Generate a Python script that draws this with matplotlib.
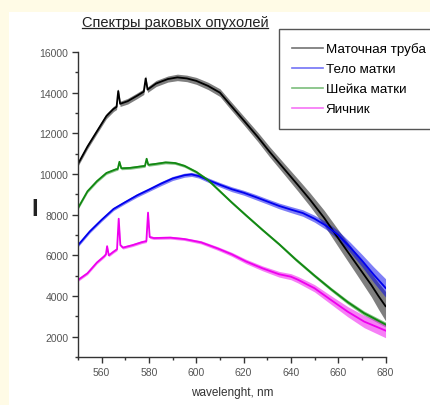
import numpy as np
import matplotlib
matplotlib.use('Agg')
import matplotlib.pyplot as plt
from matplotlib.lines import Line2D
from matplotlib.patches import Rectangle
from matplotlib.ticker import MultipleLocator

plt.rcParams['font.family'] = ['Liberation Sans', 'DejaVu Sans']

# Spectra (wavelength nm -> intensity), plus noise half-width
nm_black = [550, 554, 558, 562, 565, 566.3, 567, 567.8, 571, 575, 577.8, 578.6, 579.4,
            583, 588, 592, 596, 600, 605, 610, 614, 620, 626, 631, 637, 643, 648, 654,
            661, 668, 674, 677, 680]
val_black = [10500, 11350, 12100, 12850, 13200, 13300, 14080, 13450, 13580, 13850, 14050,
             14700, 14150, 14450, 14670, 14750, 14700, 14580, 14330, 14000, 13450, 12640,
             11820, 11090, 10270, 9450, 8750, 7850, 6670, 5520, 4540, 4000, 3500]
noise_black = [110, 120, 120, 130, 130, 130, 130, 130, 140, 140, 140, 140, 140,
               150, 150, 160, 160, 170, 180, 190, 200, 210, 230, 250, 270, 300, 330, 370,
               430, 500, 580, 650, 720]

nm_blue = [550, 555, 560, 565, 570, 575, 580, 585, 590, 595, 598, 601, 605, 610, 615,
           620, 625, 630, 635, 640, 645, 650, 655, 660, 665, 670, 675, 680]
val_blue = [6500, 7180, 7750, 8280, 8620, 8950, 9230, 9520, 9780, 9940, 9980, 9900, 9700,
            9470, 9250, 9080, 8870, 8650, 8430, 8250, 8080, 7800, 7450, 7000, 6400, 5750,
            5050, 4400]
noise_blue = [80, 80, 80, 80, 80, 90, 90, 100, 100, 100, 100, 100, 110, 110, 120,
              120, 130, 130, 140, 150, 160, 170, 190, 210, 250, 300, 380, 450]

nm_green = [550, 554, 558, 562, 566, 566.8, 567.5, 568.3, 572, 577, 578.3, 579, 579.7,
            583, 587, 591, 595, 600, 605, 610, 615, 621, 628, 635, 642, 650, 657, 664,
            671, 680]
val_green = [8330, 9150, 9650, 10050, 10230, 10250, 10600, 10280, 10300, 10380, 10400,
             10750, 10450, 10500, 10570, 10540, 10400, 10100, 9700, 9150, 8600, 7970, 7250,
             6550, 5800, 5000, 4330, 3700, 3150, 2600]
noise_green = [70] * 24 + [80, 80, 90, 100, 110, 120]

nm_mag = [550, 554, 558, 561, 561.8, 562.3, 563, 565, 566.5, 567.2, 567.9, 569, 573, 577,
          578.9, 579.6, 580.3, 582, 589, 595, 602, 609, 615, 621, 628, 635, 640, 643,
          650, 657, 664, 671, 680]
val_mag = [4790, 5120, 5650, 5950, 6050, 6450, 6000, 6180, 6300, 7800, 6500, 6380, 6500,
           6650, 6700, 8100, 6900, 6850, 6870, 6800, 6640, 6340, 6050, 5700, 5360, 5070,
           4950, 4800, 4380, 3800, 3230, 2740, 2300]
noise_mag = [70] * 20 + [80, 90, 100, 110, 120, 140, 150, 160, 180, 210, 250, 300, 350]

labels = ['Маточная труба', 'Тело матки', 'Шейка матки', 'Яичник']
colors = ['black', '#0000ee', '#118811', '#ee00ee']

fig = plt.figure(figsize=(4.31, 4.06), dpi=100)
fig.patch.set_facecolor('#fffbe6')
fig.patches.append(Rectangle((9 / 431, 0), 1, 1 - 13 / 406, transform=fig.transFigure,
                             facecolor='white', edgecolor='none', zorder=-5))

ax = fig.add_axes([0.181, 0.1182, 0.7135, 0.7513])
ax.patch.set_alpha(0)

series = [(nm_black, val_black, noise_black), (nm_blue, val_blue, noise_blue),
          (nm_green, val_green, noise_green), (nm_mag, val_mag, noise_mag)]
for (x, y, n), c in zip(series, colors):
    x = np.array(x)
    y = np.array(y)
    n = np.array(n)
    ax.fill_between(x, y - n, y + n, color=c, alpha=0.5, lw=0)
    ax.plot(x, y, color=c, lw=1.3)

ax.set_xlim(550, 680)
ax.set_ylim(1000, 16000)
ax.xaxis.set_minor_locator(MultipleLocator(10))
ax.yaxis.set_major_locator(MultipleLocator(2000))
ax.yaxis.set_minor_locator(MultipleLocator(1000))
ax.set_xticks([560, 580, 600, 620, 640, 660, 680])
ax.spines['top'].set_visible(False)
ax.spines['right'].set_visible(False)
for s in ['left', 'bottom']:
    ax.spines[s].set_color('#333333')
    ax.spines[s].set_linewidth(1.0)
ax.tick_params(which='major', direction='out', length=4, width=1, color='#333333',
               labelsize=7.5, labelcolor='#555555', pad=3)
ax.tick_params(which='minor', direction='out', length=2.5, width=1, color='#333333')

fig.text(232 / 431, 1 - 393 / 406, 'wavelenght, nm', ha='center', va='center',
         fontsize=8.5, color='#333333')
fig.text(35 / 431, 1 - 210 / 406, 'I', ha='center', va='center', fontsize=17,
         fontweight='bold', color='#222222')

title = fig.text(175 / 431, 1 - 23 / 406, 'Спектры раковых опухолей', ha='center',
                 va='center', fontsize=10.5, color='#222222')
fig.canvas.draw()
bb = title.get_window_extent().transformed(fig.transFigure.inverted())
fig.lines.append(Line2D([bb.x0, bb.x1], [bb.y0 + 0.002, bb.y0 + 0.002],
                        transform=fig.transFigure, color='#222222', lw=0.9))

handles = [Line2D([], [], color=c, lw=1.2, alpha=0.55) for c in colors]
leg = ax.legend(handles, labels, loc='upper left', bbox_to_anchor=(279 / 431, 1 - 30 / 406),
                bbox_transform=fig.transFigure, borderaxespad=0, fontsize=9.6,
                frameon=True, fancybox=False, edgecolor='#555555', framealpha=1,
                handlelength=2.3, handletextpad=0.2, labelspacing=0.58, borderpad=1.0)
leg.get_frame().set_linewidth(1.0)

fig.savefig('out.png', dpi=100)
